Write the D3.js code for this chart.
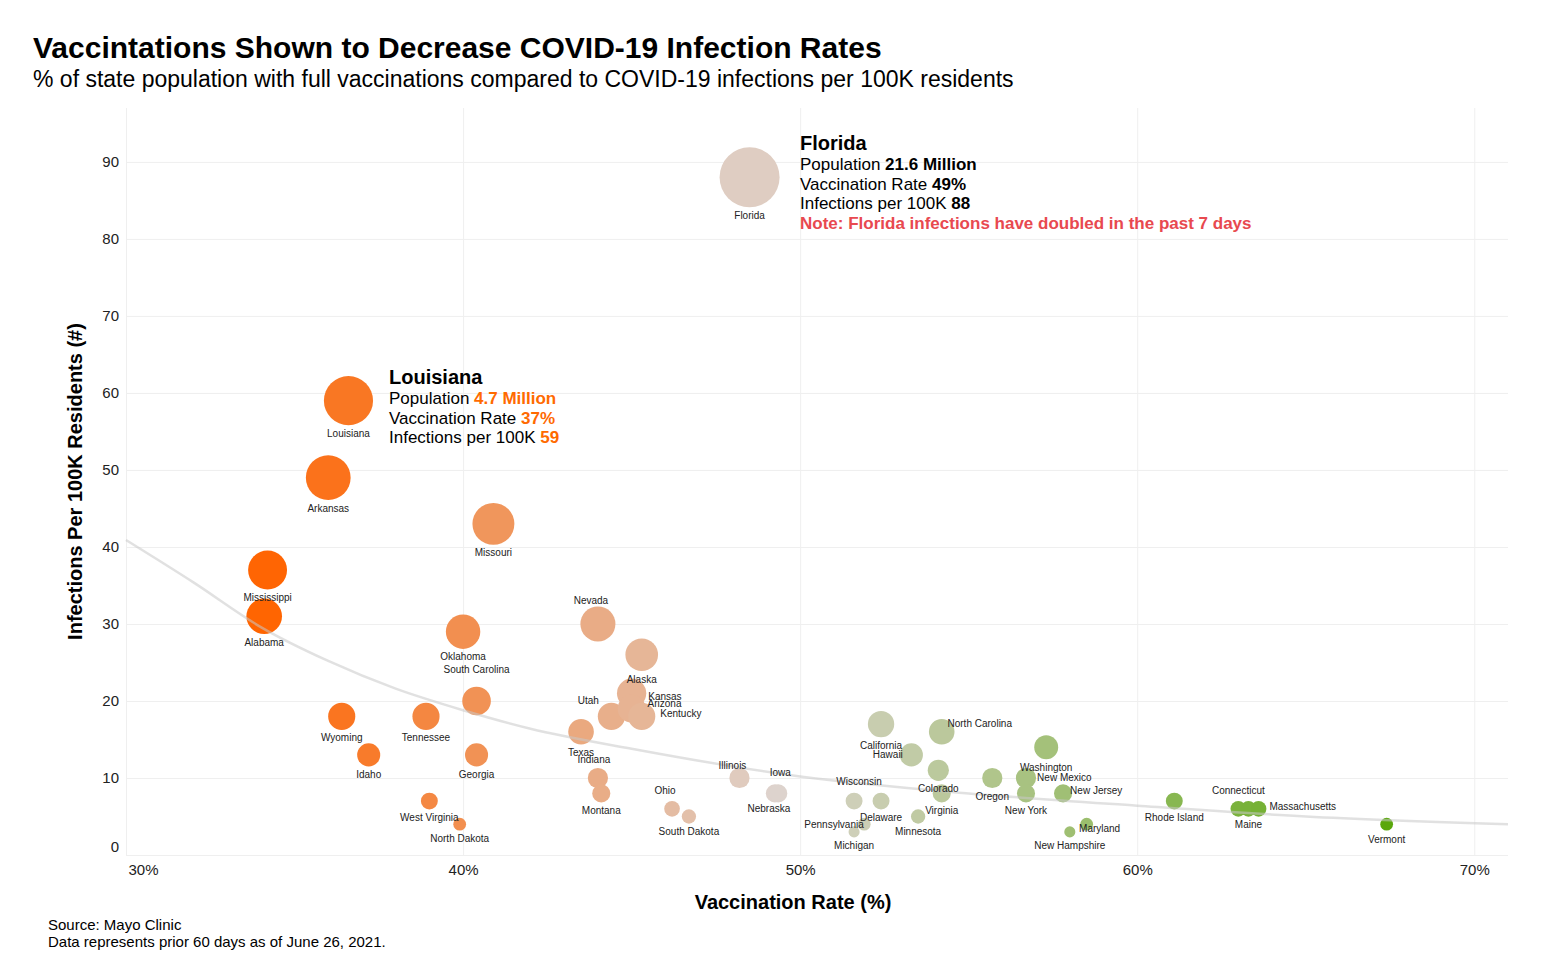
<!DOCTYPE html>
<html>
<head>
<meta charset="utf-8">
<script src="https://cdn.jsdelivr.net/npm/d3@7"></script>
<style>
  body { margin: 0; background: #fff; }
  svg { font-family: "Liberation Sans", Arial, sans-serif; }
</style>
</head>
<body>
<svg id="chart" width="1566" height="968"></svg>
<script>
// data
var states = ["Mississippi","Alabama","Louisiana","Arkansas","Wyoming","Idaho","Tennessee","West Virginia",
  "North Dakota","Oklahoma","Georgia","South Carolina","Missouri","Texas","Nevada","Indiana","Montana","Utah",
  "Kansas","Arizona","Kentucky","Alaska","Ohio","South Dakota","Illinois","Florida","Nebraska","Iowa",
  "Wisconsin","Michigan","Pennsylvania","California","Delaware","Hawaii","Minnesota","Colorado","Virginia",
  "North Carolina","Oregon","New Mexico","New York","Washington","New Jersey","New Hampshire","Maryland",
  "Rhode Island","Connecticut","Maine","Massachusetts","Vermont"];
var vaccRate = [34.2,34.1,36.6,36.0,36.4,37.2,38.9,39.0,
  39.9,40.0,40.4,40.4,40.9,43.5,44.0,44.0,44.1,44.4,
  45.0,45.0,45.3,45.3,46.2,46.7,48.2,48.5,49.25,49.35,
  51.6,51.6,51.9,52.4,52.4,53.3,53.5,54.1,54.2,
  54.2,55.7,56.7,56.7,57.3,57.8,58.0,58.5,
  61.1,63.0,63.3,63.6,67.4];
var infections = [37,31,59,49,18,13,18,7,
  4,29,13,20,43,16,30,10,8,18,
  21,19,18,26,6,5,10,88,8,8,
  7,3,4,17,7,13,5,11,8,
  16,10,10,8,14,8,3,4,
  7,6,6,6,4];

// trend line points
var trendX = [30,32,34,36,38,40,42,45,50,55,60,65,71];
var trendY = [40.9,35.4,29.6,25.2,21.6,18.8,16.4,13.8,10.2,8.0,6.4,5.0,4.0];

var xTicks = [30,40,50,60,70];
var yTicks = [0,10,20,30,40,50,60,70,80,90];

// label placement around each bubble (default: below)
var labelPlace = {
  "South Carolina": {d:"a", g:17},
  "Indiana": {d:"a", g:8, dx:-4},
  "Ohio": {d:"a", g:10, dx:-7},
  "Illinois": {d:"a", g:2, dx:-7},
  "Iowa": {d:"a", g:12, dx:2},
  "Nebraska": {d:"b", g:6, dx:-6},
  "Nevada": {d:"a", g:6, dx:-7},
  "Utah": {d:"a", g:2, dx:-23},
  "Kansas": {d:"r", g:2, dy:3},
  "Arizona": {d:"r", g:2, dy:-5},
  "Kentucky": {d:"r", g:5, dy:-3},
  "Hawaii": {d:"l", g:-3},
  "North Carolina": {d:"r", g:-7, dy:-8},
  "Wisconsin": {d:"a", g:11, dx:5},
  "Pennsylvania": {d:"l", g:-6},
  "New Mexico": {d:"r", g:1},
  "New Jersey": {d:"r", g:-2, dy:-3},
  "Maryland": {d:"r", g:-14, dy:4},
  "Connecticut": {d:"a", g:10},
  "Massachusetts": {d:"r", g:3, dy:-2},
  "Vermont": {d:"b", g:9}
};

var svg = d3.select("#chart");
var plotL = 126, plotR = 1508, plotT = 108, plotB = 855;

var x = d3.scaleLinear().domain([30, 71]).range([plotL, plotR]);
var y = d3.scaleLinear().domain([0, 97]).range([plotB, plotT]);
var r = d3.scaleSqrt().domain([0, 88]).range([0, 30]);
var color = d3.scaleLinear().domain([34, 49.5, 67.5])
  .range(["#ff6400", "#ddd4cf", "#59a70b"]).clamp(true);

// titles
svg.append("text").attr("x", 33).attr("y", 58)
  .style("font-size", "30px").style("font-weight", "bold").attr("fill", "#000")
  .text("Vaccintations Shown to Decrease COVID-19 Infection Rates");
svg.append("text").attr("x", 33).attr("y", 87)
  .style("font-size", "23px").attr("fill", "#000")
  .text("% of state population with full vaccinations compared to COVID-19 infections per 100K residents");

// grid + axes
var gy = svg.append("g").attr("transform", "translate(" + plotL + ",0)")
  .call(d3.axisLeft(y).tickValues(yTicks).tickSize(-(plotR - plotL)).tickPadding(7));
gy.select(".domain").remove();
gy.selectAll("line").attr("stroke", "#efefef");
gy.selectAll("text").style("font-size", "15px").attr("fill", "#222")
  .attr("dy", function(d){ return d === 0 ? "-0.25em" : "0.32em"; });

var gx = svg.append("g").attr("transform", "translate(0," + plotB + ")")
  .call(d3.axisBottom(x).tickValues(xTicks).tickSize(-(plotB - plotT)).tickPadding(9)
    .tickFormat(function(d){ return d + "%"; }));
gx.select(".domain").remove();
gx.selectAll("line").attr("stroke", "#efefef");
gx.selectAll("text").style("font-size", "15px").attr("fill", "#222")
  .attr("text-anchor", function(d){ return d === 30 ? "start" : "middle"; })
  .attr("x", function(d){ return d === 30 ? 2 : 0; });

svg.append("text").attr("transform", "translate(82," + ((plotT + plotB) / 2) + ") rotate(-90)")
  .attr("text-anchor", "middle").style("font-size", "20px").style("font-weight", "bold")
  .text("Infections Per 100K Residents (#)");
svg.append("text").attr("x", 793).attr("y", 909).attr("text-anchor", "middle")
  .style("font-size", "20px").style("font-weight", "bold")
  .text("Vaccination Rate (%)");

// bubbles
var data = states.map(function(s, i){
  return {name: s, v: vaccRate[i], inf: infections[i]};
});

svg.append("g").selectAll("circle").data(data).enter().append("circle")
  .attr("cx", function(d){ return x(d.v); })
  .attr("cy", function(d){ return y(d.inf); })
  .attr("r", function(d){ return r(d.inf); })
  .attr("fill", function(d){ return color(d.v); });

// trend line over the bubbles
var trend = trendX.map(function(v, i){ return [v, trendY[i]]; });
svg.append("path").datum(trend)
  .attr("d", d3.line().x(function(d){ return x(d[0]); }).y(function(d){ return y(d[1]); })
    .curve(d3.curveMonotoneX))
  .attr("fill", "none").attr("stroke", "#c8c8c8").attr("stroke-opacity", 0.55)
  .attr("stroke-width", 2.5);

// state labels
svg.append("g").selectAll("text").data(data).enter().append("text")
  .style("font-size", "10px").attr("fill", "#222").attr("dy", "0.35em")
  .each(function(d){
    var p = labelPlace[d.name] || {d: "b"};
    var cx = x(d.v), cy = y(d.inf), rr = r(d.inf);
    var g = p.g === undefined ? 8 : p.g, dx = p.dx || 0, dy = p.dy || 0;
    var t = d3.select(this), tx = cx, ty = cy, anchor = "middle";
    if (p.d === "b") ty = cy + rr + g;
    if (p.d === "a") ty = cy - rr - g;
    if (p.d === "r") { tx = cx + rr + g; anchor = "start"; }
    if (p.d === "l") { tx = cx - rr - g; anchor = "end"; }
    t.attr("x", tx + dx).attr("y", ty + dy).attr("text-anchor", anchor).text(d.name);
  });

// annotations
function note(x0, y0, title, rows, valColor){
  var g = svg.append("g");
  g.append("text").attr("x", x0).attr("y", y0).style("font-size", "20px")
    .style("font-weight", "bold").text(title);
  rows.forEach(function(row, i){
    var t = g.append("text").attr("x", x0).attr("y", y0 + 20 + i * 19.5).style("font-size", "17px");
    if (row.length === 1) {
      t.style("font-weight", "bold").attr("fill", "#e8494f").text(row[0]);
    } else {
      t.append("tspan").text(row[0] + " ");
      t.append("tspan").style("font-weight", "bold").attr("fill", valColor).text(row[1]);
    }
  });
}
note(800, 150, "Florida", [["Population", "21.6 Million"], ["Vaccination Rate", "49%"],
  ["Infections per 100K", "88"], ["Note: Florida infections have doubled in the past 7 days"]], "#000");
note(389, 384, "Louisiana", [["Population", "4.7 Million"], ["Vaccination Rate", "37%"],
  ["Infections per 100K", "59"]], "#ff6a00");

// source
svg.append("text").attr("x", 48).attr("y", 930).style("font-size", "15px").text("Source: Mayo Clinic");
svg.append("text").attr("x", 48).attr("y", 947).style("font-size", "15px")
  .text("Data represents prior 60 days as of June 26, 2021.");
</script>
</body>
</html>
